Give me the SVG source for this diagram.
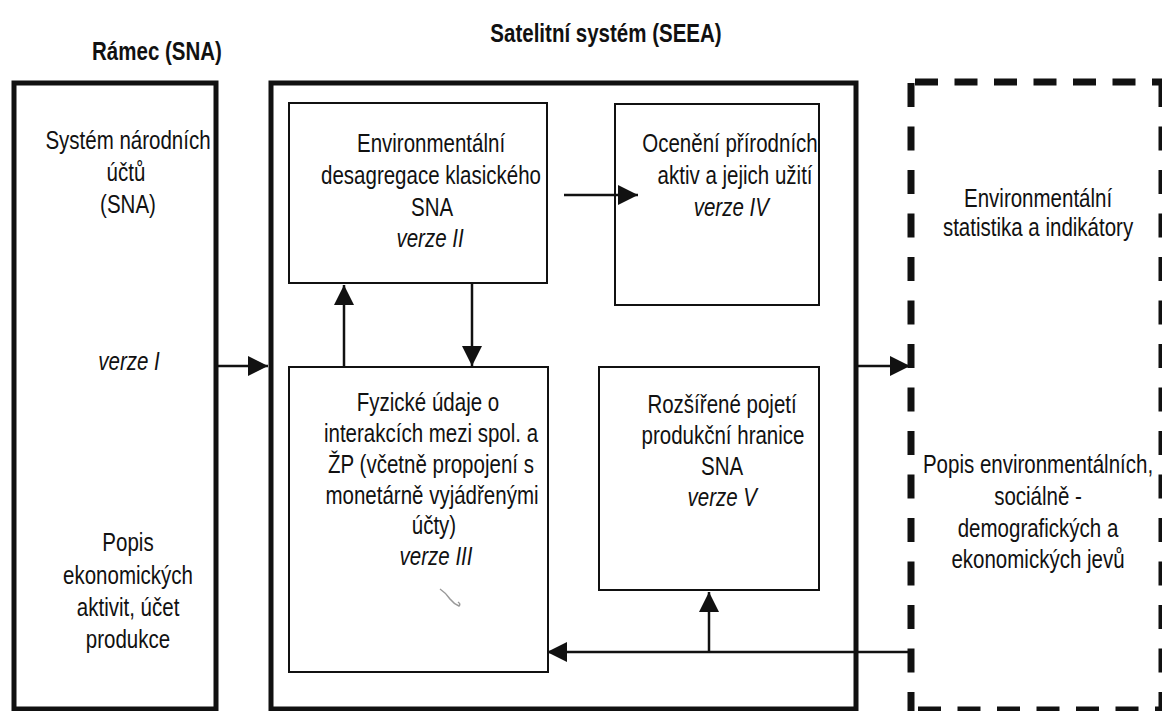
<svg xmlns="http://www.w3.org/2000/svg" width="1162" height="711" viewBox="0 0 1162 711">
  <style>
    text { font-family: "Liberation Sans", Arial, sans-serif; font-size: 25px; fill: #111; text-anchor: middle;
           transform-box: fill-box; transform-origin: center; transform: scaleX(0.82); }
    .title { font-weight: bold; }
    .ver { font-style: italic; }
    .frame { fill: none; stroke: #111; stroke-width: 5; }
    .box { fill: none; stroke: #111; stroke-width: 2; }
    .dash { fill: none; stroke: #111; stroke-width: 7; }
    .conn { fill: none; stroke: #111; stroke-width: 2.5; }
  </style>
  <defs>
    <marker id="arrow" viewBox="0 0 20 20" refX="20" refY="10" markerWidth="20" markerHeight="20" markerUnits="userSpaceOnUse" orient="auto">
      <path d="M0,0 L20,10 L0,20 Z" fill="#111"/>
    </marker>
  </defs>
  <rect width="1162" height="711" fill="#fff"/>

  <!-- column headings -->
  <text class="title" x="157" y="60">Rámec (SNA)</text>
  <text class="title" x="606" y="42">Satelitní systém (SEEA)</text>

  <!-- SNA framework column -->
  <g id="sna">
    <rect class="frame" x="14" y="83" width="202" height="626"/>
    <text x="128" y="149">Systém národních</text>
    <text x="126" y="181">účtů</text>
    <text x="128" y="213">(SNA)</text>
    <text class="ver" x="129" y="370">verze I</text>
    <text x="128" y="551">Popis</text>
    <text x="128" y="584">ekonomických</text>
    <text x="128" y="616">aktivit, účet</text>
    <text x="128" y="648">produkce</text>
  </g>

  <!-- SEEA satellite system -->
  <g id="seea">
    <rect class="frame" x="271" y="83" width="585" height="626"/>
  </g>

  <g id="v2">
    <rect class="box" x="289" y="103" width="258" height="180"/>
    <text x="431" y="152">Environmentální</text>
    <text x="431" y="184">desagregace klasického</text>
    <text x="432" y="216">SNA</text>
    <text class="ver" x="430" y="247">verze II</text>
  </g>

  <g id="v4">
    <rect class="box" x="615" y="104" width="204" height="201"/>
    <text x="730" y="152">Ocenění přírodních</text>
    <text x="735" y="184">aktiv a jejich užití</text>
    <text class="ver" x="731" y="216">verze IV</text>
  </g>

  <g id="v3">
    <rect class="box" x="289" y="367" width="259" height="305"/>
    <text x="428" y="411">Fyzické údaje o</text>
    <text x="431" y="442">interakcích mezi spol. a</text>
    <text x="431" y="473">ŽP (včetně propojení s</text>
    <text x="432" y="504">monetárně vyjádřenými</text>
    <text x="434" y="534">účty)</text>
    <text class="ver" x="436" y="565">verze III</text>
    <path d="M440 589 q6 4 10 10 q4 5 9 7 q2 -2 -1 -4" fill="none" stroke="#999" stroke-width="1.5"/>
  </g>

  <g id="v5">
    <rect class="box" x="599" y="367" width="220" height="223"/>
    <text x="722" y="413">Rozšířené pojetí</text>
    <text x="723" y="444">produkční hranice</text>
    <text x="722" y="475">SNA</text>
    <text class="ver" x="722" y="506">verze V</text>
  </g>

  <!-- environmental statistics column (dashed frame) -->
  <g id="env">
    <path class="dash" d="M915 82 H1162" stroke-dasharray="23 16.5"/>
    <path class="dash" d="M911 83 V711" stroke-dasharray="24 19.5"/>
    <path class="dash" d="M918 710 H1162" stroke-dasharray="23 16.5"/>
    <path class="dash" d="M1162 83 V711" stroke-dasharray="24 19.5" stroke="#555"/>
    <text x="1038" y="207">Environmentální</text>
    <text x="1038" y="236">statistika a indikátory</text>
    <text x="1038" y="473">Popis environmentálních,</text>
    <text x="1038" y="505">sociálně -</text>
    <text x="1038" y="537">demografických a</text>
    <text x="1038" y="568">ekonomických jevů</text>
  </g>

  <!-- connectors -->
  <g id="connectors">
    <path class="conn" d="M218 366 H268" marker-end="url(#arrow)"/>
    <path class="conn" d="M858 366 H910" marker-end="url(#arrow)"/>
    <path class="conn" d="M564 195 H638" marker-end="url(#arrow)"/>
    <path class="conn" d="M344 367 V285" marker-end="url(#arrow)"/>
    <path class="conn" d="M472 284 V366" marker-end="url(#arrow)"/>
    <path class="conn" d="M911 652 H547" marker-end="url(#arrow)"/>
    <path class="conn" d="M709 652 V592" marker-end="url(#arrow)"/>
  </g>
</svg>
